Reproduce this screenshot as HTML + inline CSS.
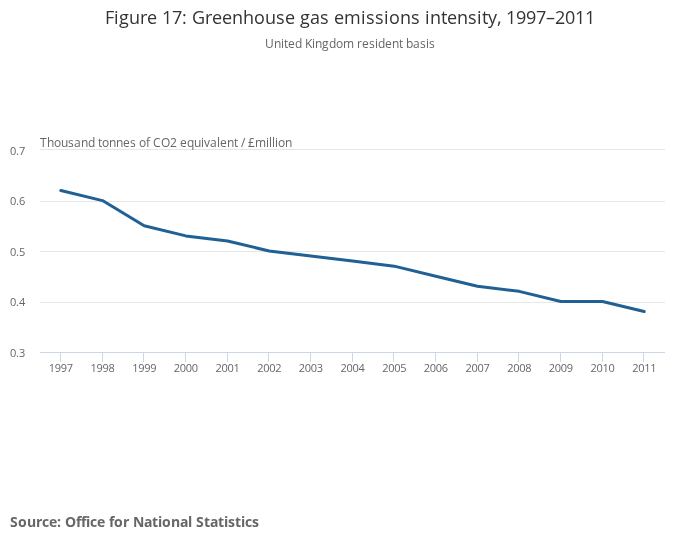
<!DOCTYPE html>
<html><head><meta charset="utf-8"><title>Figure 17: Greenhouse gas emissions intensity, 1997–2011</title>
<style>
html,body{margin:0;padding:0;background:#fff;}
body{width:700px;height:549px;overflow:hidden;}
svg{display:block;will-change:transform;font-family:"Open Sans", "Liberation Sans", "DejaVu Sans", sans-serif;}
</style></head><body>
<svg width="700" height="549" viewBox="0 0 700 549">
<rect x="0" y="0" width="700" height="549" fill="#ffffff"/>
<text x="105 114 119 129 140 147 157 162 172 182 187 192 205 212 222 232 243 254 265 276 285 295 300 310 320 329 334 344 361 366 375 384 389 400 411 420 425 430 441 447 457 468 477 482 488 497 501 506 516 526 536 546 555 565 575 585" y="24" font-size="18" fill="#333333">Figure 17: Greenhouse gas emissions intensity, 1997–2011</text>
<text x="265 274 281 284 288 295 302 305 312 315 322 329 336 343 354 357 362 369 375 378 385 392 399 403 406 413 420 426 429" y="48" font-size="12" fill="#666666">United Kingdom resident basis</text>
<rect x="40" y="149" width="625" height="1" fill="#e6e6e6"/>
<rect x="40" y="201" width="625" height="1" fill="#e6e6e6"/>
<rect x="40" y="251" width="625" height="1" fill="#e6e6e6"/>
<rect x="40" y="302" width="625" height="1" fill="#e6e6e6"/>
<rect x="40" y="352" width="625" height="1" fill="#ccd6eb"/>
<rect x="60" y="353" width="1" height="9" fill="#ccd6eb"/>
<rect x="102" y="353" width="1" height="9" fill="#ccd6eb"/>
<rect x="143" y="353" width="1" height="9" fill="#ccd6eb"/>
<rect x="185" y="353" width="1" height="9" fill="#ccd6eb"/>
<rect x="227" y="353" width="1" height="9" fill="#ccd6eb"/>
<rect x="268" y="353" width="1" height="9" fill="#ccd6eb"/>
<rect x="310" y="353" width="1" height="9" fill="#ccd6eb"/>
<rect x="352" y="353" width="1" height="9" fill="#ccd6eb"/>
<rect x="393" y="353" width="1" height="9" fill="#ccd6eb"/>
<rect x="435" y="353" width="1" height="9" fill="#ccd6eb"/>
<rect x="477" y="353" width="1" height="9" fill="#ccd6eb"/>
<rect x="518" y="353" width="1" height="9" fill="#ccd6eb"/>
<rect x="560" y="353" width="1" height="9" fill="#ccd6eb"/>
<rect x="602" y="353" width="1" height="9" fill="#ccd6eb"/>
<rect x="643" y="353" width="1" height="9" fill="#ccd6eb"/>
<text x="10 16 19" y="155" font-size="11" fill="#666666">0.7</text>
<text x="10 16 19" y="205" font-size="11" fill="#666666">0.6</text>
<text x="10 16 19" y="256" font-size="11" fill="#666666">0.5</text>
<text x="10 16 19" y="306" font-size="11" fill="#666666">0.4</text>
<text x="10 16 19" y="357" font-size="11" fill="#666666">0.3</text>
<text x="48.83 54.83 60.83 66.83" y="372" font-size="11" fill="#666666">1997</text>
<text x="90.5 96.5 102.5 108.5" y="372" font-size="11" fill="#666666">1998</text>
<text x="132.17 138.17 144.17 150.17" y="372" font-size="11" fill="#666666">1999</text>
<text x="173.83 179.83 185.83 191.83" y="372" font-size="11" fill="#666666">2000</text>
<text x="215.5 221.5 227.5 233.5" y="372" font-size="11" fill="#666666">2001</text>
<text x="257.17 263.17 269.17 275.17" y="372" font-size="11" fill="#666666">2002</text>
<text x="298.83 304.83 310.83 316.83" y="372" font-size="11" fill="#666666">2003</text>
<text x="340.5 346.5 352.5 358.5" y="372" font-size="11" fill="#666666">2004</text>
<text x="382.17 388.17 394.17 400.17" y="372" font-size="11" fill="#666666">2005</text>
<text x="423.83 429.83 435.83 441.83" y="372" font-size="11" fill="#666666">2006</text>
<text x="465.5 471.5 477.5 483.5" y="372" font-size="11" fill="#666666">2007</text>
<text x="507.17 513.17 519.17 525.17" y="372" font-size="11" fill="#666666">2008</text>
<text x="548.83 554.83 560.83 566.83" y="372" font-size="11" fill="#666666">2009</text>
<text x="590.5 596.5 602.5 608.5" y="372" font-size="11" fill="#666666">2010</text>
<text x="632.17 638.17 644.17 650.17" y="372" font-size="11" fill="#666666">2011</text>
<text x="40 47 54 61 68 74 81 88 95 98 102 109 116 123 130 136 139 146 150 153 161 170 177 180 187 194 201 204 210 217 220 227 234 238 241 245 248 255 266 269 272 275 278 285" y="147" font-size="12" fill="#666666">Thousand tonnes of CO2 equivalent / £million</text>
<polyline points="60.83,190.50 102.50,200.59 144.17,225.80 185.83,235.89 227.50,240.93 269.17,251.02 310.83,256.06 352.50,261.11 394.17,266.15 435.83,276.23 477.50,286.32 519.17,291.36 560.83,301.45 602.50,301.45 644.17,311.54" fill="none" stroke="#206095" stroke-width="3" stroke-linejoin="round" stroke-linecap="round"/>
<text x="10 18 27 36 42 49 57 61 65 76 81 86 90 97 105 109 114 123 129 133 144 152 158 162 171 180 188 192 196 204 210 218 224 228 235 241 245 252" y="527" font-size="14" font-weight="bold" fill="#666666">Source: Office for National Statistics</text>
</svg>
</body></html>
